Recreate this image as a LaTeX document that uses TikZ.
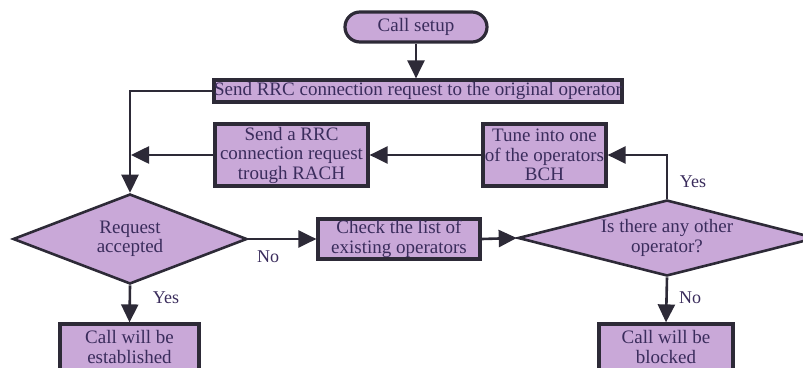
\documentclass[tikz,border=0pt]{standalone}
\usepackage{fontspec}
\setmainfont{Liberation Serif}
\usetikzlibrary{shapes.geometric,arrows.meta}
\definecolor{boxfill}{RGB}{201,168,216}
\definecolor{boxline}{RGB}{45,42,55}
\definecolor{txt}{RGB}{58,44,92}
\tikzset{
  base/.style={draw=boxline, line width=3.2pt, fill=boxfill, text=txt, inner sep=0pt, align=center, font=\fontsize{19}{19.5}\selectfont},
  procbox/.style={base, rectangle},
  pill/.style={base, rectangle, rounded corners=15pt},
  decide/.style={base, diamond, line width=2.6pt},
  conn/.style={draw=boxline, line width=2.6pt},
  arr/.style={conn, -{Triangle[length=18pt,width=17pt]}},
  lbl/.style={text=txt, font=\fontsize{18}{18}\selectfont, inner sep=0pt}
}
\begin{document}
\begin{tikzpicture}[x=1pt,y=-1pt]
\useasboundingbox (0,0) rectangle (803,367);
\node[pill, minimum width=142pt, minimum height=30pt] (start) at (416,27) {Call setup};
\node[procbox, minimum width=406pt, minimum height=22pt] (top) at (418,91) {Send RRC connection request to the original operator};
\node[procbox, minimum width=153pt, minimum height=62pt] (rach) at (291.5,155) {Send a RRC\\connection request\\trough RACH};
\node[procbox, minimum width=123pt, minimum height=62pt] (tune) at (544.5,155) {Tune into one\\of the operators\\BCH};
\node[procbox, minimum width=162pt, minimum height=40pt] (check) at (399,239) {Check the list of\\existing operators};
\node[decide, aspect=2.6, minimum width=234pt, minimum height=90pt] (d1) at (130,239) {Request\\accepted};
\node[decide, aspect=3.9, minimum width=298pt, minimum height=76pt] (d2) at (667,238) {Is there any other\\operator?};
\node[procbox, minimum width=139pt, minimum height=46pt] (est) at (129.5,347) {Call will be\\established};
\node[procbox, minimum width=134pt, minimum height=46pt] (blk) at (666,347) {Call will be\\blocked};

\draw[arr] (start.south) -- (start.south |- top.north);
\draw[arr] (top.west) -- (d1.north |- top.west) -- (d1.north);
\draw[arr] (rach.west) -- ([xshift=1pt]d1.north |- rach.west);
\draw[arr] (tune.west) -- (rach.east);
\draw[arr] (d2.north) -- (d2.north |- tune.east) -- (tune.east);
\draw[arr] (d1.east) -- (check.west);
\draw[arr] (check.east) -- (d2.west);
\draw[arr] (d1.south) -- (est.north);
\draw[arr] (d2.south) -- (blk.north);

\node[lbl] (yes1) at (693,182) {Yes};
\node[lbl] (no1) at (268,257) {No};
\node[lbl] (yes2) at (166,298) {Yes};
\node[lbl] (no2) at (690,298) {No};
\end{tikzpicture}
\end{document}
